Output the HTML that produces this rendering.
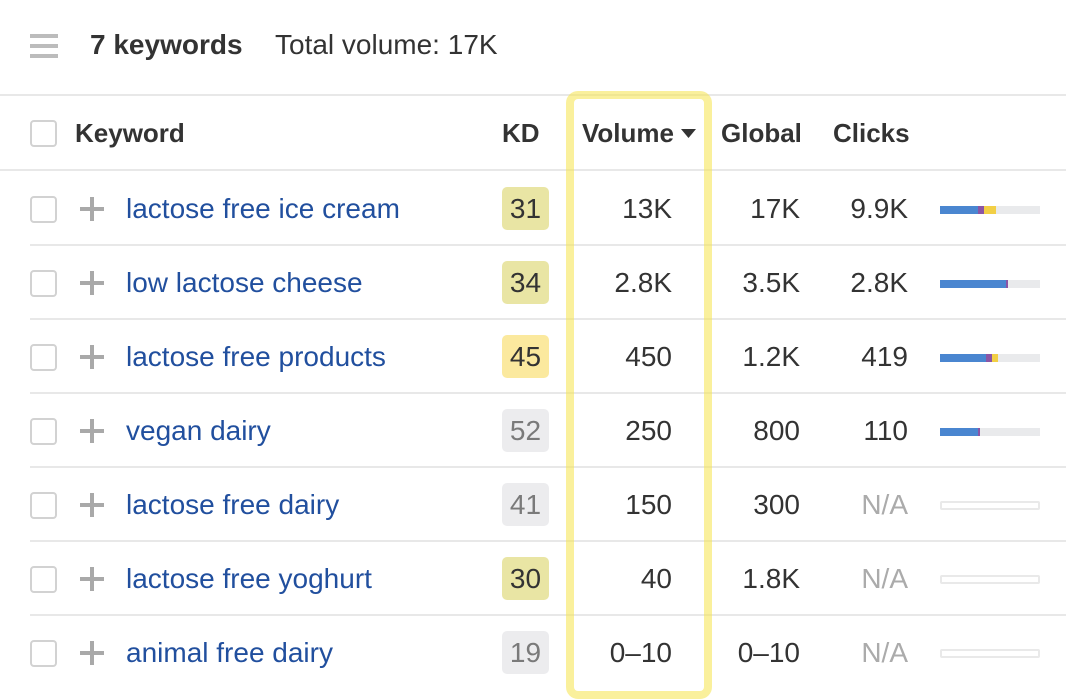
<!DOCTYPE html>
<html><head><meta charset="utf-8">
<style>
*{margin:0;padding:0;box-sizing:border-box}
body{width:1066px;height:700px;background:#fff;position:relative;overflow:hidden;font-family:"Liberation Sans",Arial,Helvetica,sans-serif;color:#333}
.abs{position:absolute}
.ham{position:absolute;left:30px;width:28px;height:4px;background:#bcbcbc}
.hline{position:absolute;left:0;width:1066px;height:2px;background:#e8e8e8}
.row{position:absolute;left:0;width:1066px;height:74px}
.row .sep{position:absolute;left:30px;right:0;top:72px;height:2px;background:#e8e8e8}
.cb{position:absolute;left:30px;width:27px;height:27px;border:2px solid #d2d2d2;border-radius:4px;background:#fff}
.row .cb{top:24px}
.plus{position:absolute;left:80px;top:25px;width:24px;height:24px}
.plus:before{content:"";position:absolute;left:0;top:10px;width:24px;height:4px;background:#a9a9a9}
.plus:after{content:"";position:absolute;left:10px;top:0;width:4px;height:24px;background:#a9a9a9}
.kw{position:absolute;left:126px;top:0;line-height:74px;font-size:28px;color:#214f9e;white-space:nowrap}
.kd{position:absolute;left:502px;top:15px;width:47px;height:43px;border-radius:5px;font-size:28px;line-height:43px;text-align:center}
.ol{background:#e9e5a4;color:#333}
.ye{background:#fbe99e;color:#333}
.gr{background:#ececee;color:#7a7a7a}
.num{position:absolute;top:0;line-height:74px;font-size:28px;text-align:right;white-space:nowrap}
.vol{right:394px}
.glo{right:266px}
.clk{right:158px}
.na{color:#ababab}
.bar{position:absolute;left:940px;top:34px;width:100px;height:8px;background:#e9eaec;overflow:hidden}
.bar span{position:absolute;top:0;height:8px}
.b{background:#4a86d0}.p{background:#8b55a5}.y{background:#f2cf45}
.ebar{position:absolute;left:940px;top:33px;width:100px;height:9px;border:2px solid #e9e9e9;border-radius:2px;background:#fff}
.hd{position:absolute;top:96px;line-height:74px;font-size:26px;font-weight:bold;color:#333;white-space:nowrap}
.box{position:absolute;left:566px;top:91px;width:146px;height:608px;border:8px solid rgba(246,228,74,0.55);border-radius:12px}
</style></head><body>

<div class="ham" style="top:34px"></div>
<div class="ham" style="top:44px"></div>
<div class="ham" style="top:54px"></div>
<div class="abs" style="left:90px;top:0;line-height:90px;font-size:28px;font-weight:bold;color:#333">7 keywords</div>
<div class="abs" style="left:275px;top:0;line-height:90px;font-size:28px;color:#333">Total volume: 17K</div>

<div class="hline" style="top:94px"></div>
<div class="hline" style="top:169px"></div>

<div class="cb" style="top:120px"></div>
<div class="hd" style="left:75px">Keyword</div>
<div class="hd" style="left:502px">KD</div>
<div class="hd" style="left:582px">Volume</div>
<svg class="abs" style="left:681px;top:129px" width="15" height="10" viewBox="0 0 15 10"><polygon points="0,0 15,0 7.5,9" fill="#333"/></svg>
<div class="hd" style="left:721px">Global</div>
<div class="hd" style="left:833px">Clicks</div>

<!-- row 1 -->
<div class="row" style="top:172px">
  <div class="cb"></div><div class="plus"></div>
  <div class="kw">lactose free ice cream</div>
  <div class="kd ol">31</div>
  <div class="num vol">13K</div><div class="num glo">17K</div><div class="num clk">9.9K</div>
  <div class="bar"><span class="b" style="left:0;width:38px"></span><span class="p" style="left:38px;width:6px"></span><span class="y" style="left:44px;width:12px"></span></div>
  <div class="sep"></div>
</div>
<!-- row 2 -->
<div class="row" style="top:246px">
  <div class="cb"></div><div class="plus"></div>
  <div class="kw">low lactose cheese</div>
  <div class="kd ol">34</div>
  <div class="num vol">2.8K</div><div class="num glo">3.5K</div><div class="num clk">2.8K</div>
  <div class="bar"><span class="b" style="left:0;width:66px"></span><span class="p" style="left:66px;width:2px"></span></div>
  <div class="sep"></div>
</div>
<!-- row 3 -->
<div class="row" style="top:320px">
  <div class="cb"></div><div class="plus"></div>
  <div class="kw">lactose free products</div>
  <div class="kd ye">45</div>
  <div class="num vol">450</div><div class="num glo">1.2K</div><div class="num clk">419</div>
  <div class="bar"><span class="b" style="left:0;width:46px"></span><span class="p" style="left:46px;width:6px"></span><span class="y" style="left:52px;width:6px"></span></div>
  <div class="sep"></div>
</div>
<!-- row 4 -->
<div class="row" style="top:394px">
  <div class="cb"></div><div class="plus"></div>
  <div class="kw">vegan dairy</div>
  <div class="kd gr">52</div>
  <div class="num vol">250</div><div class="num glo">800</div><div class="num clk">110</div>
  <div class="bar"><span class="b" style="left:0;width:38px"></span><span class="p" style="left:38px;width:2px"></span></div>
  <div class="sep"></div>
</div>
<!-- row 5 -->
<div class="row" style="top:468px">
  <div class="cb"></div><div class="plus"></div>
  <div class="kw">lactose free dairy</div>
  <div class="kd gr">41</div>
  <div class="num vol">150</div><div class="num glo">300</div><div class="num clk na">N/A</div>
  <div class="ebar"></div>
  <div class="sep"></div>
</div>
<!-- row 6 -->
<div class="row" style="top:542px">
  <div class="cb"></div><div class="plus"></div>
  <div class="kw">lactose free yoghurt</div>
  <div class="kd ol">30</div>
  <div class="num vol">40</div><div class="num glo">1.8K</div><div class="num clk na">N/A</div>
  <div class="ebar"></div>
  <div class="sep"></div>
</div>
<!-- row 7 -->
<div class="row" style="top:616px">
  <div class="cb"></div><div class="plus"></div>
  <div class="kw">animal free dairy</div>
  <div class="kd gr">19</div>
  <div class="num vol">0–10</div><div class="num glo">0–10</div><div class="num clk na">N/A</div>
  <div class="ebar"></div>
</div>

<div class="box"></div>
</body></html>
